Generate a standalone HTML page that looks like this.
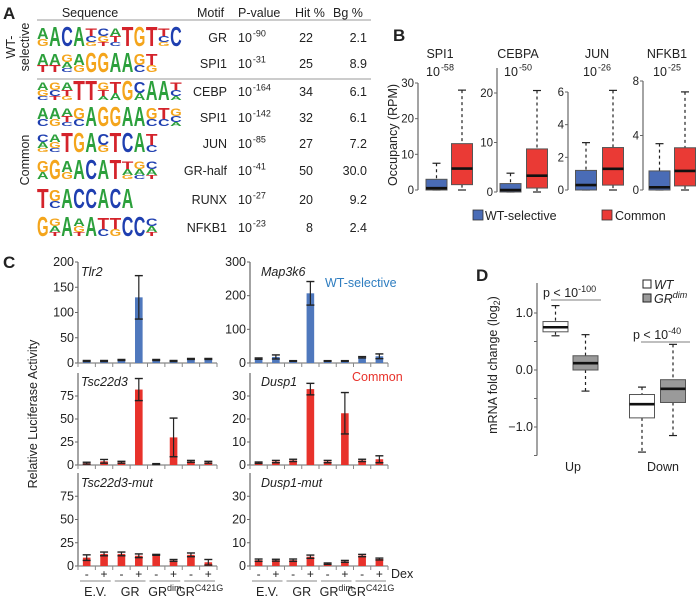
<!DOCTYPE html>
<html><head><meta charset="utf-8"><style>
html,body{margin:0;padding:0;background:#fff}
svg{display:block;font-family:"Liberation Sans",Arial,sans-serif}
</style></head><body>
<svg id="fig" width="700" height="600" viewBox="0 0 700 600" xmlns="http://www.w3.org/2000/svg">
<rect width="700" height="600" fill="#fff"/>
<g id="A"></g>
<g id="B"></g>
<g id="C"></g>
<g id="D"></g>
</svg>
<script>
// ---------- Panel A data ----------
const motifNames = ["GR","SPI1","CEBP","SPI1","JUN","GR-half","RUNX","NFKB1"];
const motifPExp = ["-90","-31","-164","-142","-85","-41","-27","-23"];
const motifHit = ["22","25","34","32","27","50","20","8"];
const motifBg = ["2.1","8.9","6.1","6.1","7.2","30.0","9.2","2.4"];
const motifLogos = [
 ["AG","A","C","A","TCG","CGT","ATC","T","G","T","TCG","C"],
 ["AT","AT","GAC","AG","G","G","A","A","GC","TG"],
 ["AGC","GCT","ATG","T","T","GTA","TA","G","CA","A","A","TCA"],
 ["AC","AG","ATC","GC","A","G","G","A","A","GC","TC","GCA"],
 ["CAG","AGC","T","G","A","CG","T","C","A","TC"],
 ["GA","G","AG","A","C","A","T","TAG","GAC","CAT"],
 ["T","GC","A","C","C","A","C","A"],
 ["G","GAT","A","AGT","A","TC","TG","C","C","CAT"]
];
// ---------- Panel B data ----------
const bTitles = ["SPI1","CEBPA","JUN","NFKB1"];
const bPExp = ["-58","-50","-26","-25"];
const bSpi1Blue = [0,0,0.5,3,7.5], bSpi1Red = [0,1.5,6,13,28];
const bCebpaBlue = [0,0,0.4,1.7,3.8], bCebpaRed = [0,0.8,3.3,8.7,20.5];
const bJunBlue = [0,0,0.3,1.2,2.9], bJunRed = [0,0.3,1.3,2.6,6.1];
const bNfkbBlue = [0,0,0.2,1.4,3.4], bNfkbRed = [0,0.3,1.4,3.1,7.2];
const bTicksSpi1 = [0,10,20,30], bTicksCebpa = [0,10,20], bTicksJun = [0,2,4,6], bTicksNfkb = [0,4,8];
// ---------- Panel C data ----------
const cGroups = ["E.V.","GR","GR","GR"];
const cGroupSup = ["","","dim","C421G"];
const cDex = ["-","+","-","+","-","+","-","+"];
const tlr2 = [4,4,6,130,6,4,8,8], tlr2Err = [1,1,1,43,1,1,1,1];
const map3k6 = [13,18,6,207,6,6,17,20], map3k6Err = [2,6,1,35,1,1,2,7];
const tsc = [2,4,3,82,1,30,4,3], tscErr = [1,2,1,12,0.5,21,1,1];
const dusp = [1,1.5,2,33,1.5,22.5,2,2.5], duspErr = [0.3,0.5,0.5,2.5,0.5,9,0.5,1.5];
const tscMut = [9,13,13,11,12,6,12,4], tscMutErr = [3,2,2,2,0.5,1,2,3];
const duspMut = [2.5,2.5,2.5,4,1,2,4.5,3], duspMutErr = [0.5,0.4,0.5,0.7,0.3,0.4,0.5,0.4];
const cTicks200 = [0,50,100,150,200], cTicks300 = [0,100,200,300], cTicks100 = [0,25,50,75], cTicks40 = [0,10,20,30];
// ---------- Panel D data ----------
const dUpWT = [0.6,0.67,0.75,0.85,1.13], dUpDim = [-0.37,0,0.12,0.25,0.62];
const dDownWT = [-1.44,-0.84,-0.6,-0.43,-0.3], dDownDim = [-1.15,-0.57,-0.33,-0.17,0.45];
const dTicks = [1.0,0.5,0.0,-0.5,-1.0,-1.5];
const dTickLabels = ["1.0","","0.0","","\u22121.0",""];

const NS="http://www.w3.org/2000/svg";
function E(parent,tag,attrs,text){const e=document.createElementNS(NS,tag);for(const k in attrs)e.setAttribute(k,attrs[k]);if(text!==undefined)e.textContent=text;parent.appendChild(e);return e;}
function T(parent,x,y,str,size,anchor,extra){const e=E(parent,'text',Object.assign({x:x,y:y,'font-size':size,'text-anchor':anchor||'start',fill:'#222'},extra||{}),str);return e;}
function pow10(parent,x,y,exp,size,anchor){const t=E(parent,'text',{x:x,y:y,'font-size':size,'text-anchor':anchor||'start',fill:'#222'});
 const a=E(t,'tspan',{},'10');const b=E(t,'tspan',{dy:-size*0.45,'font-size':size*0.72,dx:1},exp);return t;}

// ================= Panel A =================
const A=document.getElementById('A');
let t=T(A,3,19,'A',17,'start',{'font-weight':'bold'});

[['Sequence',90,'middle'],['Motif',197,'start'],['P-value',238,'start'],['Hit %',295,'start'],['Bg %',333,'start']].forEach(h=>{
 const e=T(A,h[1],17,h[0],12.5,h[2]);
 
});
let ln=E(A,'line',{x1:37,y1:20,x2:371,y2:20,stroke:'#999','stroke-width':1});

ln=E(A,'line',{x1:37,y1:79,x2:371,y2:79,stroke:'#999','stroke-width':1});

let g=E(A,'text',{transform:'translate(15,47) rotate(-90)','font-size':12.5,'text-anchor':'middle',fill:'#222'},'WT-');

g=E(A,'text',{transform:'translate(29,47) rotate(-90)','font-size':12.5,'text-anchor':'middle',fill:'#222'},'selective');

g=E(A,'text',{transform:'translate(29,160) rotate(-90)','font-size':12.5,'text-anchor':'middle',fill:'#222'},'Common');

const rowY=[37,63,91,117,143,170,199,227];
const baseCol={A:'#2ca03c',C:'#1f3fb0',G:'#f4a51c',T:'#d4232b'};
motifNames.forEach((m,i)=>{
 const y=rowY[i];
 const row=E(A,'g',{});
 
 
 const logo=E(row,'g',{});
 
 
 const step=12.1, bottom=y+9, H=20;
 motifLogos[i].forEach((pos,j)=>{
  const x=37+j*step;
  let fr=[];
  if(pos.length===1)fr=[1];else if(pos.length===2)fr=[0.55,0.35];else fr=[0.4,0.3,0.2];
  let yb=bottom;
  for(let k=pos.length-1;k>=0;k--){
   const h=H*fr[k];
   const ch=pos[k];
   const s=h/7.2;
   E(logo,'text',{x:0,y:0,'font-size':10,'font-weight':'bold',fill:baseCol[ch],textLength:step-0.5,lengthAdjust:'spacingAndGlyphs',transform:`translate(${x},${yb}) scale(1,${s})`},ch);
   yb-=h;
  }
 });
 const mt=T(row,227,y+5,m,12.5,'end');
 
 const pv=pow10(row,238,y+5,motifPExp[i],12.5);
 
 const ht=T(row,313,y+5,motifHit[i],12.5,'end');
 
 const bg=T(row,367,y+5,motifBg[i],12.5,'end');
 
});

// ================= box drawing =================
function drawBox(parent,cx,w,st,yf,fill,name){
 const b=E(parent,'g',{});
 
 
 E(b,'line',{x1:cx,x2:cx,y1:yf(st[4]),y2:yf(st[3]),stroke:'#222','stroke-width':1.2,'stroke-dasharray':'3,3'});
 E(b,'line',{x1:cx,x2:cx,y1:yf(st[1]),y2:yf(st[0]),stroke:'#222','stroke-width':1.2,'stroke-dasharray':'3,3'});
 E(b,'line',{x1:cx-4,x2:cx+4,y1:yf(st[4]),y2:yf(st[4]),stroke:'#222','stroke-width':1.2});
 E(b,'line',{x1:cx-4,x2:cx+4,y1:yf(st[0]),y2:yf(st[0]),stroke:'#222','stroke-width':1.2});
 E(b,'rect',{x:cx-w/2,y:yf(st[3]),width:w,height:Math.max(1,yf(st[1])-yf(st[3])),fill:fill,stroke:'#555','stroke-width':1});
 E(b,'line',{x1:cx-w/2,x2:cx+w/2,y1:yf(st[2]),y2:yf(st[2]),stroke:'#111','stroke-width':2.6});
}
function vAxis(parent,x,yf,ticks,labels,top,size){
 const ax=E(parent,'g',{});
 
 
 E(ax,'line',{x1:x,x2:x,y1:top,y2:yf(ticks[0]),stroke:'#666','stroke-width':1.2});
 ticks.forEach((v,i)=>{
  E(ax,'line',{x1:x-3,x2:x,y1:yf(v),y2:yf(v),stroke:'#666','stroke-width':1});
  if(labels[i]!=='')T(ax,x-4,yf(v)+4,labels[i],size,'end');
 });
 return ax;
}

// ================= Panel B =================
const B=document.getElementById('B');
t=T(B,393,41,'B',17,'start',{'font-weight':'bold'});

const bPanels=[
 {ax:418,y0:190,yv:83,v:30,top:83,ticks:bTicksSpi1,blue:bSpi1Blue,red:bSpi1Red,bx:436.5,rx:462,tx:440},
 {ax:497,y0:192,yv:93,v:20,top:68,ticks:bTicksCebpa,blue:bCebpaBlue,red:bCebpaRed,bx:510.5,rx:537,tx:518},
 {ax:568,y0:190,yv:92,v:6,top:92,ticks:bTicksJun,blue:bJunBlue,red:bJunRed,bx:586,rx:613,tx:597},
 {ax:643,y0:190,yv:81,v:8,top:81,ticks:bTicksNfkb,blue:bNfkbBlue,red:bNfkbRed,bx:659.5,rx:685,tx:667}
];
bPanels.forEach((p,i)=>{
 const sg=E(B,'g',{});
 
 
 const yf=v=>p.y0-(p.y0-p.yv)*v/p.v;
 const tt=T(sg,p.tx,58,bTitles[i],12.5,'middle');
 
 const pv=pow10(sg,p.tx,76,bPExp[i],12.5,'middle');
 
 vAxis(sg,p.ax,yf,p.ticks,p.ticks.map(String),p.top,11.5);
 drawBox(sg,p.bx,21,p.blue,yf,'#4a6cb6','box-wt-selective');
 drawBox(sg,p.rx,21,p.red,yf,'#ea3a35','box-common');
});
t=E(B,'text',{transform:'translate(397,135) rotate(-90)','font-size':12.5,'text-anchor':'middle',fill:'#222'},'Occupancy (RPM)');

let lg=E(B,'g',{});
E(lg,'rect',{x:473,y:210,width:10,height:10,fill:'#4a6cb6',stroke:'#333','stroke-width':0.8});
T(lg,485,220,'WT-selective',12.5);
lg=E(B,'g',{});
E(lg,'rect',{x:602,y:210,width:10,height:10,fill:'#ea3a35',stroke:'#333','stroke-width':0.8});
T(lg,615,220,'Common',12.5);

// ================= Panel C =================
const C=document.getElementById('C');
t=T(C,3,268,'C',17,'start',{'font-weight':'bold'});

function barPanel(name,x0,x1,top,zero,max,ticks,vals,errs,color,title){
 const sg=E(C,'g',{});
 
 
 const yf=v=>zero-(zero-top)*v/max;
 vAxis(sg,x0,yf,ticks,ticks.map(String),top,12.5);
 E(sg,'line',{x1:x0,x2:x1,y1:zero,y2:zero,stroke:'#888','stroke-width':1.2});
 const step=(x1-x0)/vals.length;
 for(let k=0;k<=vals.length;k++)E(sg,'line',{x1:x0+k*step,x2:x0+k*step,y1:zero,y2:zero+4,stroke:'#888','stroke-width':1});
 vals.forEach((v,i)=>{
  const cx=x0+(i+0.5)*step;
  const r=E(sg,'rect',{x:cx-3.8,y:yf(v),width:7.6,height:zero-yf(v),fill:color});
  
  
  const eg=E(sg,'g',{});
  
  
  const hi=yf(v+errs[i]),lo=yf(Math.max(0,v-errs[i]));
  E(eg,'line',{x1:cx,x2:cx,y1:hi,y2:lo,stroke:'#222','stroke-width':1.2});
  E(eg,'line',{x1:cx-4,x2:cx+4,y1:hi,y2:hi,stroke:'#222','stroke-width':1.4});
  E(eg,'line',{x1:cx-4,x2:cx+4,y1:lo,y2:lo,stroke:'#222','stroke-width':1.4});
 });
 const tt=T(sg,title[1],title[2],title[0],12.5,'start',{'font-style':'italic'});
 
}
barPanel('bars-tlr2',78,217,262,363,200,cTicks200,tlr2,tlr2Err,'#4f78bd',['Tlr2',81,276]);
barPanel('bars-map3k6',250,388,262,363,300,cTicks300,map3k6,map3k6Err,'#4f78bd',['Map3k6',261,276]);
barPanel('bars-tsc22d3',78,217,373,465,100,cTicks100,tsc,tscErr,'#e8322b',['Tsc22d3',81,386]);
barPanel('bars-dusp1',250,388,373,465,40,cTicks40,dusp,duspErr,'#e8322b',['Dusp1',261,386]);
barPanel('bars-tsc22d3-mut',78,217,473,566,100,cTicks100,tscMut,tscMutErr,'#e8322b',['Tsc22d3-mut',81,487]);
barPanel('bars-dusp1-mut',250,388,473,566,40,cTicks40,duspMut,duspMutErr,'#e8322b',['Dusp1-mut',261,487]);
[[78,217],[250,388]].forEach(([x0,x1],c)=>{
 const xg=E(C,'g',{});
 
 
 const step=(x1-x0)/8;
 cDex.forEach((d,i)=>T(xg,x0+(i+0.5)*step,578,d,12,'middle'));
 cGroups.forEach((gname,k)=>{
  const cx=x0+(2*k+1)*step;
  E(xg,'line',{x1:cx-step+2,x2:cx+step-2,y1:581,y2:581,stroke:'#888','stroke-width':1});
  const tx=E(xg,'text',{x:cx,y:596,'font-size':12.5,'text-anchor':'middle',fill:'#222'});
  E(tx,'tspan',{},gname);
  if(cGroupSup[k])E(tx,'tspan',{dy:-5,'font-size':9},cGroupSup[k]);
 });
});
t=T(C,391,578,'Dex',12.5);
t=E(C,'text',{transform:'translate(37,414) rotate(-90)','font-size':12.5,'text-anchor':'middle',fill:'#222'},'Relative Luciferase Activity');

t=T(C,325,287,'WT-selective',12.5,'start',{fill:'#2e7dc0'});

t=T(C,352,381,'Common',12.5,'start',{fill:'#e8322b'});


// ================= Panel D =================
const D=document.getElementById('D');
t=T(D,476,281,'D',17,'start',{'font-weight':'bold'});

const dyf=v=>370-57*v;
vAxis(D,537,dyf,[-1.5,-1.0,-0.5,0.0,0.5,1.0],["","\u22121.0","","0.0","","1.0"],283,12.5);
drawBox(D,555.5,25,dUpWT,dyf,'#ffffff','box-up-wt');
drawBox(D,585.5,25,dUpDim,dyf,'#9a9a9a','box-up-grdim');
drawBox(D,642,25,dDownWT,dyf,'#ffffff','box-down-wt');
drawBox(D,673,25,dDownDim,dyf,'#9a9a9a','box-down-grdim');
t=T(D,573,471,'Up',12.5,'middle');
t=T(D,663,471,'Down',12.5,'middle');
let pg=E(D,'g',{});
let pt=E(pg,'text',{x:543,y:297,'font-size':12.5,fill:'#222'});E(pt,'tspan',{},'p < 10');E(pt,'tspan',{dy:-5,'font-size':9},'-100');
E(pg,'line',{x1:551,x2:601,y1:300,y2:300,stroke:'#999','stroke-width':1.2});
pg=E(D,'g',{});
pt=E(pg,'text',{x:633,y:339,'font-size':12.5,fill:'#222'});E(pt,'tspan',{},'p < 10');E(pt,'tspan',{dy:-5,'font-size':9},'-40');
E(pg,'line',{x1:641,x2:690,y1:342,y2:342,stroke:'#999','stroke-width':1.2});
lg=E(D,'g',{});
E(lg,'rect',{x:643,y:280,width:8,height:8,fill:'#fff',stroke:'#222','stroke-width':1});
T(lg,654,289,'WT',12.5,'start',{'font-style':'italic'});
lg=E(D,'g',{});
E(lg,'rect',{x:643,y:294,width:8,height:8,fill:'#9a9a9a',stroke:'#222','stroke-width':1});
pt=E(lg,'text',{x:654,y:303,'font-size':12.5,'font-style':'italic',fill:'#222'});E(pt,'tspan',{},'GR');E(pt,'tspan',{dy:-5,'font-size':9},'dim');
pt=E(D,'text',{transform:'translate(497,365) rotate(-90)','font-size':12.5,'text-anchor':'middle',fill:'#222'});

E(pt,'tspan',{},'mRNA fold change (log');E(pt,'tspan',{dy:3,'font-size':9},'2');E(pt,'tspan',{dy:-3},')');
</script>
</body></html>
